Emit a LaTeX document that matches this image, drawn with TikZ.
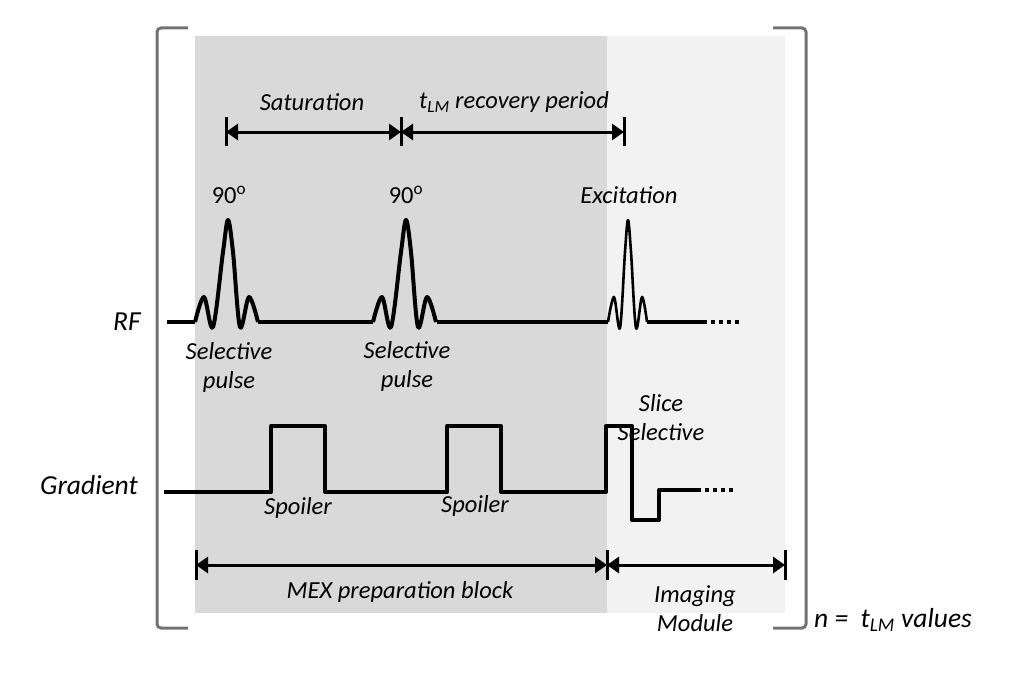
\documentclass[tikz,border=0pt]{standalone}
\usepackage{fontspec}
\setmainfont{Carlito}
\usetikzlibrary{arrows.meta}
\definecolor{darkbg}{RGB}{217,217,217}
\definecolor{lightbg}{RGB}{242,242,242}
\definecolor{brkgray}{RGB}{118,113,113}
\tikzset{
  lbl/.style={font=\fontsize{24.5}{29}\selectfont\itshape, inner sep=0pt, align=center},
  axlbl/.style={font=\fontsize{27.5}{32}\selectfont\itshape, inner sep=0pt},
  deglbl/.style={font=\fontsize{24.5}{29}\selectfont, inner sep=0pt},
  wave/.style={line width=4pt, line join=round},
  thinwave/.style={line width=2.6pt, line join=round},
  dotline/.style={line width=4pt, dash pattern=on 4pt off 4pt},
  spanarrow/.style={line width=3pt, {Triangle[length=12pt,width=16pt]}-{Triangle[length=12pt,width=16pt]}},
  endbar/.style={line width=3pt},
  brk/.style={draw=brkgray, line width=3pt, rounded corners=4pt},
  pics/selpulse/.style={code={
    \draw[wave] plot[smooth, tension=0.55] coordinates
      {(-33,0) (-24,-25) (-15,5) (-5,-70) (0,-102) (5,-70) (12,5) (21,-25) (30,0)};
  }},
  pics/excpulse/.style={code={
    \draw[thinwave] plot[smooth, tension=0.55] coordinates
      {(-20,0) (-14,-25) (-8,6) (-3,-70) (0,-102) (3,-70) (8,6) (14,-25) (19,0)};
  }}
}
\begin{document}
\begin{tikzpicture}[x=1pt,y=-1pt]
\useasboundingbox (0,0) rectangle (1013,685);
% backgrounds
\fill[darkbg] (195,36) rectangle (607,613);
\fill[lightbg] (607,36) rectangle (785,613);
% brackets
\draw[brk] (188,28) -- (157,28) -- (157,628) -- (188,628);
\draw[brk] (773,28) -- (806,28) -- (806,628) -- (773,628);

% top spans
\coordinate (s1) at (226,132);
\coordinate (s2) at (401,132);
\coordinate (s3) at (624,132);
\foreach \c in {s1,s2,s3} \draw[endbar] ([yshift=-14pt]\c.center) -- ([yshift=15pt]\c.center);
\draw[spanarrow] (s1) -- (s2);
\draw[spanarrow] (s2) -- (s3);
\node[lbl] (sat) at (312,102) {Saturation};
\node[lbl] (rec) at (514,102) {t\textsubscript{LM} recovery period};

% RF
\node[axlbl] (rf) at (127,322) {RF};
\node[deglbl] (deg1) at (229,195) {90\textsuperscript{o}};
\node[deglbl] (deg2) at (406,195) {90\textsuperscript{o}};
\node[lbl] (exc) at (629,195) {Excitation};
\coordinate (rf0) at (167,322);
\coordinate (p1a) at (195,322);
\coordinate (p1b) at (258,322);
\coordinate (p2a) at (373,322);
\coordinate (p2b) at (437,322);
\coordinate (p3a) at (608,322);
\coordinate (p3b) at (647,322);
\coordinate (rfd) at (703,322);
\coordinate (rfe) at (742,322);
\draw[wave] (rf0) -- (p1a);
\pic at (228,322) {selpulse};
\draw[wave] (p1b) -- (p2a);
\pic at (406,322) {selpulse};
\draw[wave] (p2b) -- (p3a);
\pic at (628,322) {excpulse};
\draw[line width=3.5pt] (p3b) -- (rfd);
\draw[dotline] (rfd) -- (rfe);
\node[lbl] (sp1) at (229,367) {Selective\\pulse};
\node[lbl] (sp2) at (407,366) {Selective\\pulse};

% Gradient
\node[axlbl] (grad) at (89,485) {Gradient};
\coordinate (g0) at (166,492);
\coordinate (gd) at (697,490);
\coordinate (ge) at (735,490);
\draw[wave, line cap=rect] (g0) -- (271,492) -- (271,426) -- (325,426) -- (325,492)
  -- (447,492) -- (447,426) -- (501,426) -- (501,492) -- (606,492) -- (606,426)
  -- (632,426) -- (632,520) -- (659,520) -- (659,490) -- (gd);
\draw[dotline] (gd) -- (ge);
\node[lbl] (spo1) at (298,508) {Spoiler};
\node[lbl] (spo2) at (475,506) {Spoiler};
\node[lbl] (slice) at (661,418) {Slice\\Selective};

% bottom spans
\coordinate (b1) at (196,565);
\coordinate (b2) at (607,565);
\coordinate (b3) at (785,565);
\foreach \c in {b1,b2,b3} \draw[endbar] ([yshift=-15pt]\c.center) -- ([yshift=15pt]\c.center);
\draw[spanarrow] (b1) -- (b2);
\draw[spanarrow] (b2) -- (b3);
\node[lbl] (mex) at (400,592) {MEX preparation block};
\node[lbl] (img) at (695,609) {Imaging\\Module};
\node[axlbl, anchor=west] (nval) at (814,620) {n =\ \ t\textsubscript{LM} values};
\end{tikzpicture}
\end{document}
